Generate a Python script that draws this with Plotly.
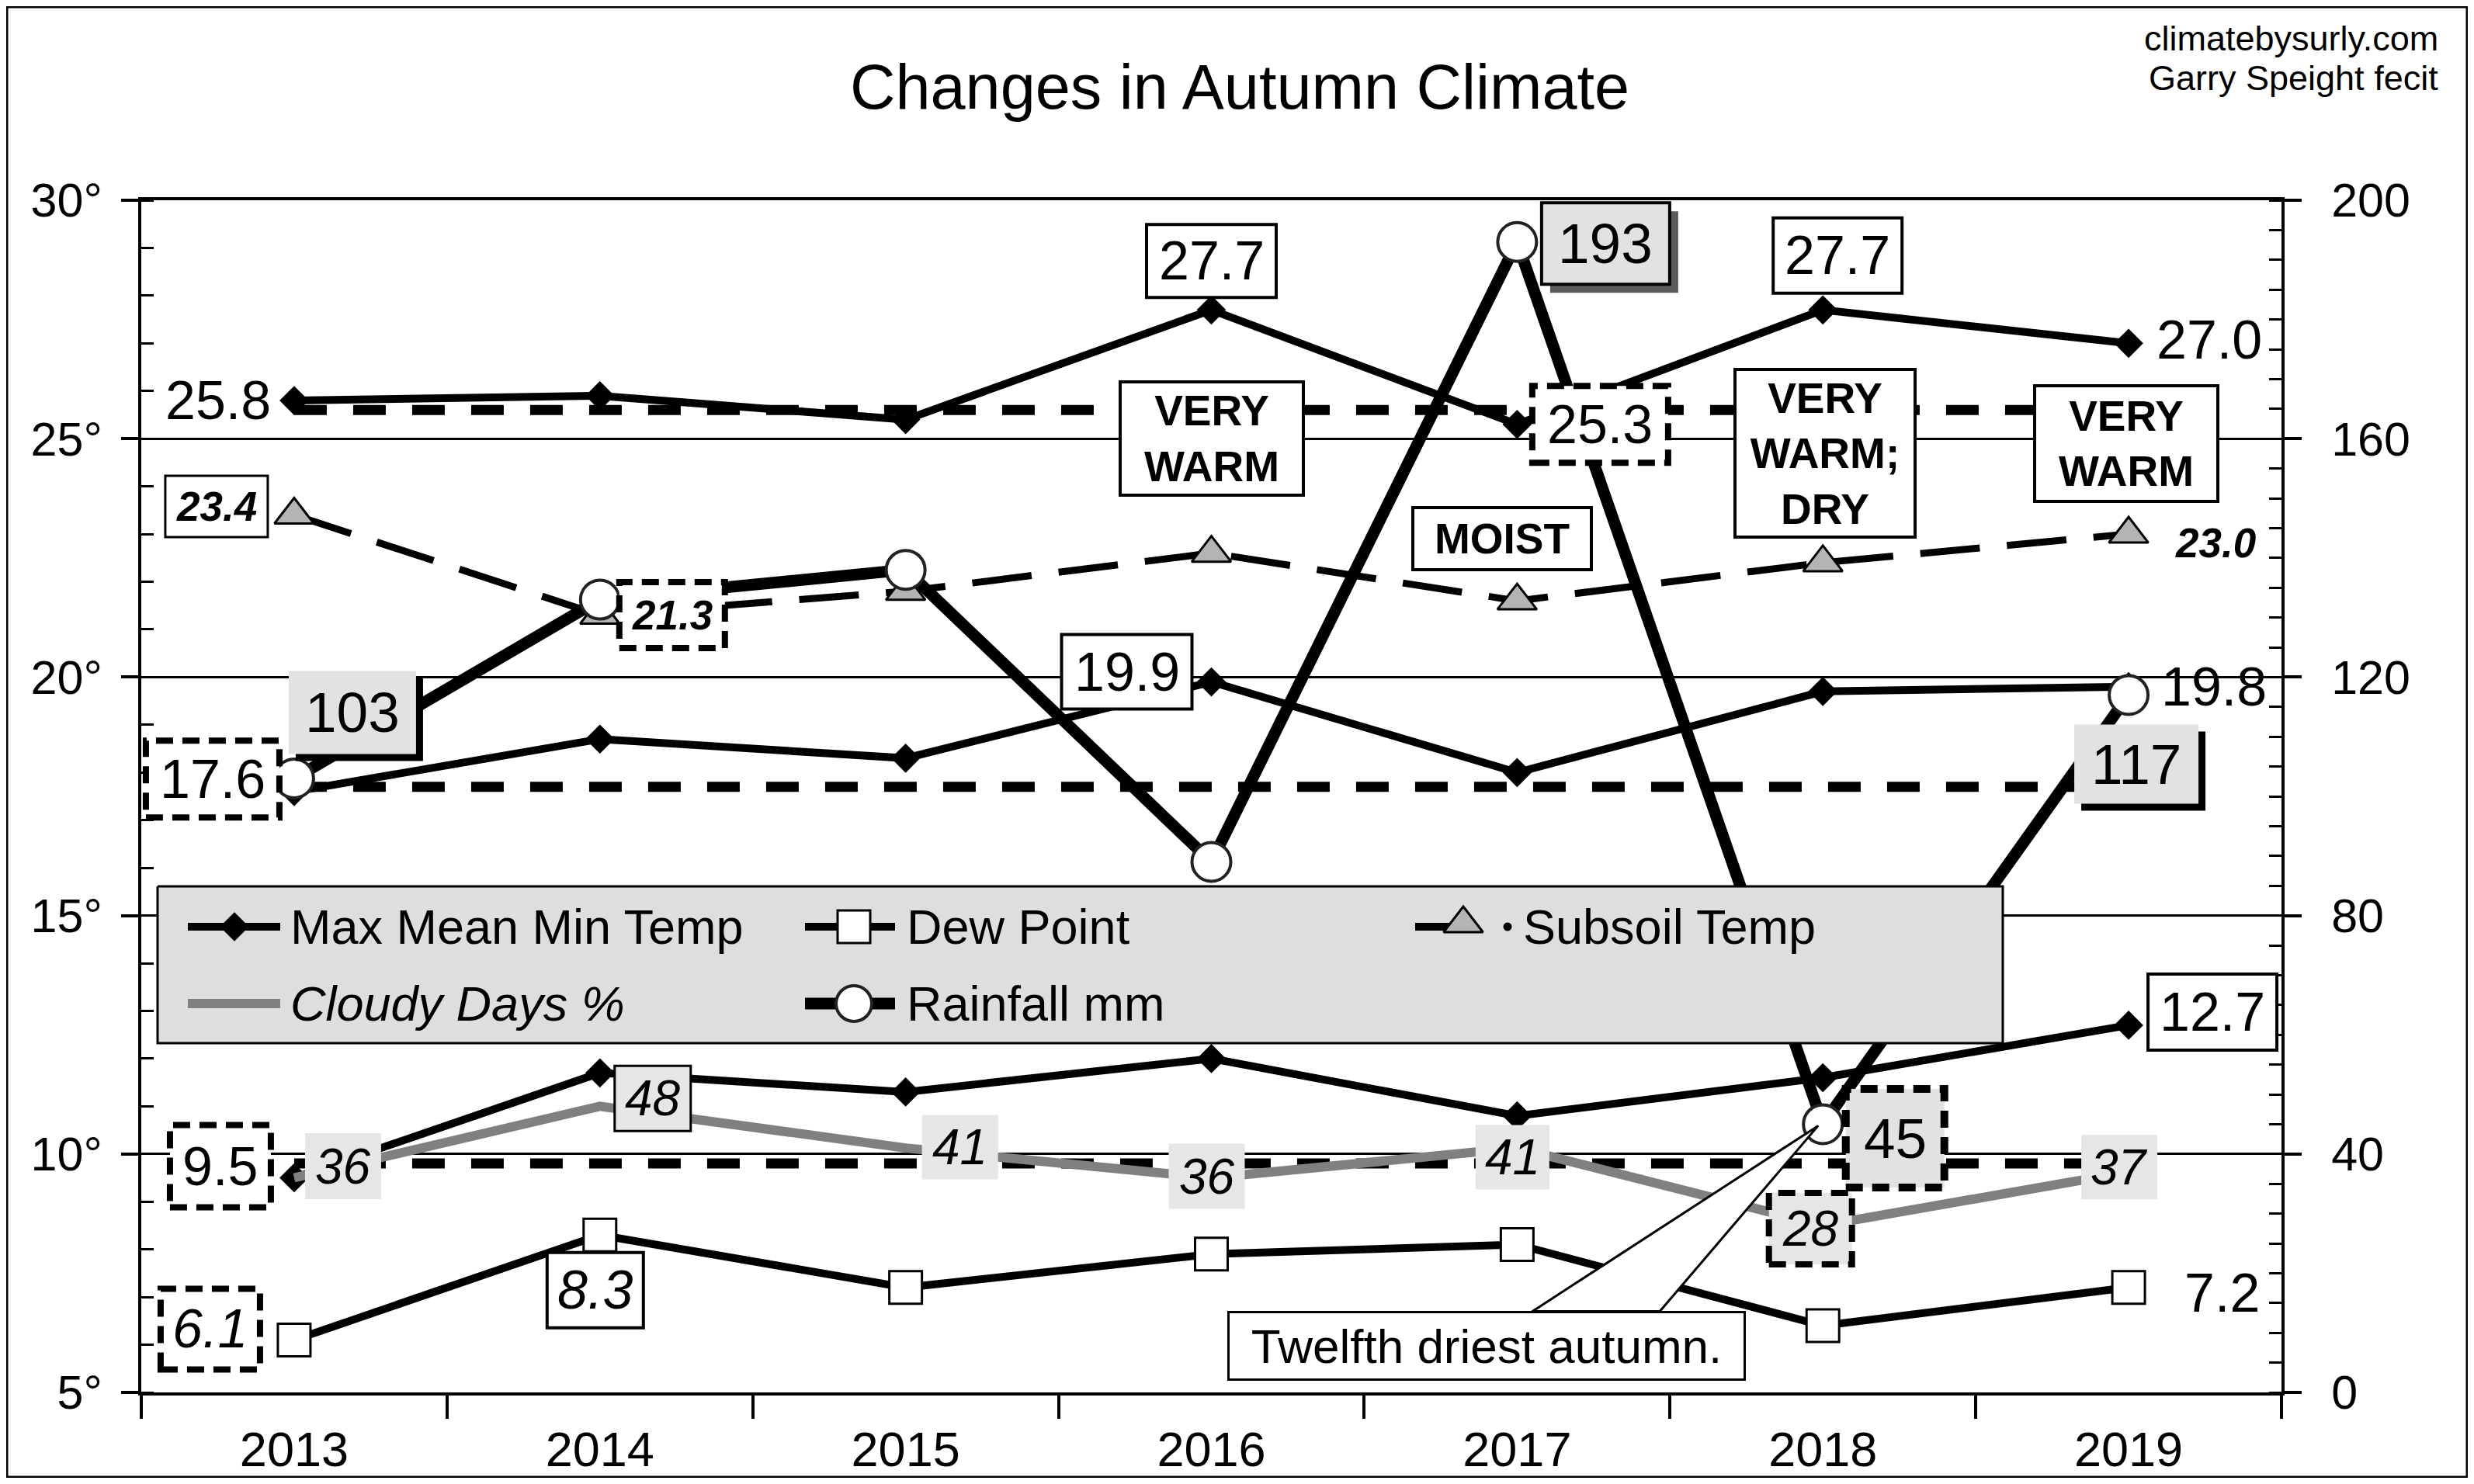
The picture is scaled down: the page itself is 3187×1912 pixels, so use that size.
import plotly.graph_objects as go

# ---------------- data ----------------
years = [2013, 2014, 2015, 2016, 2017, 2018, 2019]
max_temp = [25.8, 25.9, 25.4, 27.7, 25.3, 27.7, 27.0]
mean_temp = [17.6, 18.7, 18.3, 19.9, 18.0, 19.7, 19.8]
min_temp = [9.5, 11.7, 11.3, 12.0, 10.8, 11.6, 12.7]
dew_point = [6.1, 8.3, 7.2, 7.9, 8.1, 6.4, 7.2]
subsoil_temp = [23.4, 21.3, 21.8, 22.6, 21.6, 22.4, 23.0]
cloudy_pct = [36, 48, 41, 36, 41, 28, 37]
rainfall_mm = [103, 133, 138, 89, 193, 45, 117]
avg_max = 25.6
avg_mean = 17.7
avg_min = 9.8

left_ticks = [5, 10, 15, 20, 25, 30]
left_ticktext = [f"{t}°" for t in left_ticks]
right_ticks = [0, 40, 80, 120, 160, 200]
year_labels = [str(y) for y in years]

title_text = "Changes in Autumn Climate"
credit_1 = "climatebysurly.com"
credit_2 = "Garry Speight fecit"
legend_names = ["Max Mean Min Temp", "Dew Point", "Subsoil Temp", "Cloudy Days %", "Rainfall mm"]
callout_text = "Twelfth driest autumn."

# ---------------- layout constants (image pixel coordinates) ----------------
W, H = 3187, 1912
OFF = 8                      # default page margin around the plot div
FIG_W, FIG_H = W - 2 * OFF, H - 2 * OFF
L, R, T, B = 182, 2939, 258, 1794
FONT = "Liberation Sans, Arial, Helvetica, sans-serif"
HATCH = "#e2e2e2"
GRAYBG = "#e6e6e6"
TRI = 44

fig = go.Figure()

# average dashed lines
for avg in [avg_max, avg_mean, avg_min]:
    fig.add_trace(go.Scatter(x=[years[0], years[-1]], y=[avg, avg], mode="lines",
                             line=dict(color="black", width=13, dash="42px,34px"),
                             hoverinfo="skip"))
# max / mean / min temperature
for series in [max_temp, mean_temp, min_temp]:
    fig.add_trace(go.Scatter(x=years, y=series, mode="lines+markers",
                             line=dict(color="black", width=10),
                             marker=dict(symbol="diamond", size=29, color="black")))
# dew point
fig.add_trace(go.Scatter(x=years, y=dew_point, mode="lines+markers",
                         line=dict(color="black", width=10),
                         marker=dict(symbol="square", size=42, color="white",
                                     line=dict(color="black", width=3))))
# subsoil
fig.add_trace(go.Scatter(x=years, y=subsoil_temp, mode="lines+markers",
                         line=dict(color="black", width=9, dash="77px,35px"),
                         marker=dict(symbol="triangle-up", size=TRI, color="#b4b4b4",
                                     line=dict(color="black", width=3))))
# cloudy days (right axis)
fig.add_trace(go.Scatter(x=years, y=cloudy_pct, yaxis="y2", mode="lines",
                         line=dict(color="#808080", width=12)))
# rainfall (right axis)
fig.add_trace(go.Scatter(x=years, y=rainfall_mm, yaxis="y2", mode="lines+markers",
                         line=dict(color="black", width=15),
                         marker=dict(symbol="circle", size=50, color="white",
                                     line=dict(color="#222222", width=4))))

# ---------------- custom legend (pixel overlay axes) ----------------
lg = dict(xaxis="x3", yaxis="y3", hoverinfo="skip")
fig.add_trace(go.Scatter(x=[203, 2580, 2580, 203, 203], y=[1142, 1142, 1344, 1344, 1142],
                         mode="lines", fill="toself", fillcolor="#dedede",
                         line=dict(color="black", width=3), **lg))
row1, row2 = 1194, 1293
fig.add_trace(go.Scatter(x=[242, 361], y=[row1, row1], mode="lines",
                         line=dict(color="black", width=10), **lg))
fig.add_trace(go.Scatter(x=[302], y=[row1], mode="markers",
                         marker=dict(symbol="diamond", size=29, color="black"), **lg))
fig.add_trace(go.Scatter(x=[1037, 1153], y=[row1, row1], mode="lines",
                         line=dict(color="black", width=10), **lg))
fig.add_trace(go.Scatter(x=[1100], y=[row1], mode="markers",
                         marker=dict(symbol="square", size=42, color="white",
                                     line=dict(color="black", width=3)), **lg))
fig.add_trace(go.Scatter(x=[1823, 1902], y=[row1, row1], mode="lines",
                         line=dict(color="black", width=10), **lg))
fig.add_trace(go.Scatter(x=[1885], y=[row1 - 4], mode="markers",
                         marker=dict(symbol="triangle-up", size=TRI, color="#b4b4b4",
                                     line=dict(color="black", width=3)), **lg))
fig.add_trace(go.Scatter(x=[1942], y=[row1], mode="markers",
                         marker=dict(symbol="circle", size=11, color="black"), **lg))
fig.add_trace(go.Scatter(x=[242, 361], y=[row2, row2], mode="lines",
                         line=dict(color="#808080", width=12), **lg))
fig.add_trace(go.Scatter(x=[1037, 1153], y=[row2, row2], mode="lines",
                         line=dict(color="black", width=15), **lg))
fig.add_trace(go.Scatter(x=[1100], y=[row2], mode="markers",
                         marker=dict(symbol="circle", size=46, color="white",
                                     line=dict(color="#222222", width=4)), **lg))

annotations = []
shapes = []

legend_pos = [(372, row1, False), (1166, row1, False), (1960, row1, False),
              (372, row2, True), (1166, row2, False)]
for name, (lx, ly, ital) in zip(legend_names, legend_pos):
    annotations.append(dict(x=lx, y=ly, xref="x3", yref="y3", text=f"<i>{name}</i>" if ital else name,
                            showarrow=False, xanchor="left", yanchor="middle",
                            font=dict(family=FONT, size=63, color="black")))

# ---------------- data labels ----------------
def box(xv, yv, yref, cx, cy, w, h, fill, lcolor=None, lwidth=0, dash=None):
    line = dict(width=lwidth, color=lcolor if lcolor else "rgba(0,0,0,0)")
    if dash:
        line["dash"] = dash
    shapes.append(dict(type="rect", xref="x", yref=yref, xsizemode="pixel", ysizemode="pixel",
                       xanchor=xv, yanchor=yv, x0=cx - w / 2, x1=cx + w / 2,
                       y0=cy - h / 2, y1=cy + h / 2, fillcolor=fill, line=line, layer="above"))


def label(series, idx, yref, text, dx, dy, style, w=0, h=0, size=70, bold=False, italic=False):
    xv, yv = years[idx], series[idx]
    if style == "solid":
        box(xv, yv, yref, dx, dy, w, h, "white", "black", 4)
    elif style == "solid_thin":
        box(xv, yv, yref, dx, dy, w, h, "white", "black", 3)
    elif style == "dashed":
        box(xv, yv, yref, dx, dy, w, h, "white", "black", 8, "22px,12px")
    elif style == "hatch_shadow":
        box(xv, yv, yref, dx + 9, dy - 9, w, h, "black")
        box(xv, yv, yref, dx, dy, w, h, HATCH)
    elif style == "hatch_border_shadow":
        box(xv, yv, yref, dx + 11, dy - 11, w, h, "#5a5a5a")
        box(xv, yv, yref, dx, dy, w, h, HATCH, "black", 4)
    elif style == "hatch_dashed":
        box(xv, yv, yref, dx, dy, w, h, HATCH, "black", 10, "22px,12px")
    elif style == "gray":
        box(xv, yv, yref, dx, dy, w, h, GRAYBG)
    elif style == "gray_solid":
        box(xv, yv, yref, dx, dy, w, h, GRAYBG, "black", 3)
    elif style == "gray_dashed":
        box(xv, yv, yref, dx, dy, w, h, GRAYBG, "black", 8, "22px,12px")
    t = text
    if bold:
        t = f"<b>{t}</b>"
    if italic:
        t = f"<i>{t}</i>"
    annotations.append(dict(x=xv, y=yv, xref="x", yref=yref, text=t, showarrow=False,
                            xshift=dx, yshift=dy, xanchor="center", yanchor="middle",
                            font=dict(family=FONT, size=size, color="black")))


f1 = lambda v: f"{v:.1f}"
f0 = lambda v: f"{v:.0f}"

# max temp
label(max_temp, 0, "y", f1(max_temp[0]), -98, 0, "plain")
label(max_temp, 3, "y", f1(max_temp[3]), 0, 63, "solid", 167, 94)
label(max_temp, 4, "y", f1(max_temp[4]), 107, 0, "dashed", 175, 99)
label(max_temp, 5, "y", f1(max_temp[5]), 19, 70, "solid", 166, 97)
label(max_temp, 6, "y", f1(max_temp[6]), 104, 4, "plain")
# subsoil
label(subsoil_temp, 0, "y", f1(subsoil_temp[0]), -100, 11, "solid_thin", 132, 79, 53, True, True)
label(subsoil_temp, 1, "y", f1(subsoil_temp[1]), 93, 0, "dashed", 136, 85, 53, True, True)
label(subsoil_temp, 6, "y", f1(subsoil_temp[6]), 112, -11, "plain", 0, 0, 53, True, True)
# mean
label(mean_temp, 0, "y", f1(mean_temp[0]), -105, 16, "dashed", 172, 99)
label(mean_temp, 3, "y", f1(mean_temp[3]), -109, 13, "solid", 168, 96)
label(mean_temp, 6, "y", f1(mean_temp[6]), 110, 0, "plain")
# min
label(min_temp, 0, "y", f1(min_temp[0]), -95, 15, "dashed", 130, 106)
label(min_temp, 6, "y", f1(min_temp[6]), 108, 17, "solid", 166, 98)
# dew point
label(dew_point, 0, "y", f1(dew_point[0]), -108, 14, "dashed", 128, 104, 70, False, True)
label(dew_point, 1, "y", f1(dew_point[1]), -6, -71, "solid", 124, 97, 70, False, True)
label(dew_point, 6, "y", f1(dew_point[6]), 120, -7, "plain")
# rainfall
label(rainfall_mm, 0, "y2", f0(rainfall_mm[0]), 75, 85, "hatch_shadow", 164, 107, 73)
label(rainfall_mm, 4, "y2", f0(rainfall_mm[4]), 114, -2, "hatch_border_shadow", 165, 105, 73)
label(rainfall_mm, 5, "y2", f0(rainfall_mm[5]), 93, -18, "hatch_dashed", 127, 127, 73)
label(rainfall_mm, 6, "y2", f0(rainfall_mm[6]), 10, -89, "hatch_shadow", 160, 102, 73)
# cloudy
label(cloudy_pct, 0, "y2", f0(cloudy_pct[0]), 63, 15, "gray", 98, 85, 64, False, True)
label(cloudy_pct, 1, "y2", f0(cloudy_pct[1]), 68, 10, "gray_solid", 98, 84, 64, False, True)
label(cloudy_pct, 2, "y2", f0(cloudy_pct[2]), 70, 1, "gray", 98, 83, 64, False, True)
label(cloudy_pct, 3, "y2", f0(cloudy_pct[3]), -6, 2, "gray", 98, 84, 64, False, True)
label(cloudy_pct, 4, "y2", f0(cloudy_pct[4]), -6, -12, "gray", 95, 83, 64, False, True)
label(cloudy_pct, 5, "y2", f0(cloudy_pct[5]), -16, -4, "gray_dashed", 107, 92, 64, False, True)
label(cloudy_pct, 6, "y2", f0(cloudy_pct[6]), -12, 6, "gray", 98, 83, 64, False, True)

# ---------------- comment boxes ----------------
def comment(x, y, text, w, h, xshift=0):
    annotations.append(dict(x=x, y=y, xref="x", yref="y", text=f"<b>{text}</b>", showarrow=False,
                            xshift=xshift, xanchor="center", yanchor="middle", align="center",
                            width=w - 14, height=h - 14, borderpad=3,
                            bgcolor="white", bordercolor="black", borderwidth=4,
                            font=dict(family=FONT, size=55, color="black")))

comment(years[3], 25.0, "VERY<br>WARM", 240, 150)
comment(years[4], 22.9, "MOIST", 234, 84, -19)
comment(years[5], 24.7, "VERY<br>WARM;<br>DRY", 236, 220, 3)
comment(years[6], 24.9, "VERY<br>WARM", 240, 153, -3)

# callout to 2018 rainfall
shapes.append(dict(type="path", xref="x", yref="y2", xsizemode="pixel", ysizemode="pixel",
                   xanchor=years[5], yanchor=rainfall_mm[5],
                   path="M -374,-241 L -6,-2 L -210,-241 Z",
                   fillcolor="white", line=dict(color="black", width=3), layer="above"))
annotations.append(dict(x=years[5], y=rainfall_mm[5], xref="x", yref="y2", text=callout_text,
                        showarrow=False, xshift=-433, yshift=-286, xanchor="center", yanchor="middle",
                        width=656, height=78, borderpad=3, bgcolor="white", bordercolor="black",
                        borderwidth=3, font=dict(family=FONT, size=62, color="black")))

# ---------------- title and credits ----------------
pw, ph = R - L, B - T
annotations.append(dict(x=(1597 - L) / pw, y=(B - 112) / ph, xref="paper", yref="paper",
                        text=title_text, showarrow=False, xanchor="center", yanchor="middle",
                        font=dict(family=FONT, size=81, color="black")))
annotations.append(dict(x=(3143 - L) / pw, y=(B - 50) / ph, xref="paper", yref="paper",
                        text=credit_1, showarrow=False, xanchor="right", yanchor="middle",
                        font=dict(family=FONT, size=45, color="black")))
annotations.append(dict(x=(3143 - L) / pw, y=(B - 101) / ph, xref="paper", yref="paper",
                        text=credit_2, showarrow=False, xanchor="right", yanchor="middle",
                        font=dict(family=FONT, size=45, color="black")))

# outer frame
shapes.append(dict(type="rect", xref="paper", yref="paper",
                   x0=(OFF + 1 - L) / pw, x1=(W - OFF - 1 - L) / pw,
                   y0=(B - (H - OFF - 1)) / ph, y1=(B - OFF - 1) / ph,
                   line=dict(color="black", width=3), fillcolor="rgba(0,0,0,0)", layer="above"))

fig.update_layout(
    template="none",
    width=FIG_W, height=FIG_H,
    margin=dict(l=L - OFF, r=(W - OFF) - R, t=T - OFF, b=(H - OFF) - B, pad=0),
    paper_bgcolor="white", plot_bgcolor="white",
    showlegend=False,
    font=dict(family=FONT, color="black"),
    xaxis=dict(domain=[0, 1], range=[2012.5, 2019.5], tickmode="array", tickvals=years,
               ticktext=year_labels, ticks="outside", ticklen=15, tickcolor="rgba(0,0,0,0)",
               tickfont=dict(family=FONT, size=63, color="black"),
               showline=True, linewidth=4, linecolor="black", mirror=True,
               showgrid=False, zeroline=False, automargin=False,
               minor=dict(tickmode="linear", tick0=2012.5, dtick=1, ticks="outside", ticklen=30,
                          tickwidth=4, tickcolor="black", showgrid=False)),
    yaxis=dict(domain=[0, 1], range=[5, 30], tickmode="array", tickvals=left_ticks,
               ticktext=left_ticktext, ticks="outside", ticklen=22, tickwidth=4, tickcolor="black",
               ticklabelstandoff=12,
               tickfont=dict(family=FONT, size=61, color="black"),
               showline=True, linewidth=4, linecolor="black",
               showgrid=True, gridcolor="black", gridwidth=3, zeroline=False, automargin=False,
               minor=dict(tickmode="linear", tick0=5, dtick=1, ticks="inside", ticklen=16,
                          tickwidth=3, tickcolor="black", showgrid=False)),
    yaxis2=dict(overlaying="y", side="right", anchor="x", range=[0, 200], tickmode="array",
                tickvals=right_ticks, ticks="outside", ticklen=22, tickwidth=4, tickcolor="black",
                ticklabelstandoff=26,
                tickfont=dict(family=FONT, size=61, color="black"),
                showline=True, linewidth=4, linecolor="black",
                showgrid=False, zeroline=False, automargin=False,
                minor=dict(tickmode="linear", tick0=0, dtick=5, ticks="inside", ticklen=16,
                           tickwidth=3, tickcolor="black", showgrid=False)),
    xaxis3=dict(overlaying="x", anchor="y3", range=[L, R], visible=False, automargin=False),
    yaxis3=dict(overlaying="y", anchor="x3", range=[B, T], visible=False, automargin=False),
    annotations=annotations,
    shapes=shapes,
)

fig.write_html("out.html")
